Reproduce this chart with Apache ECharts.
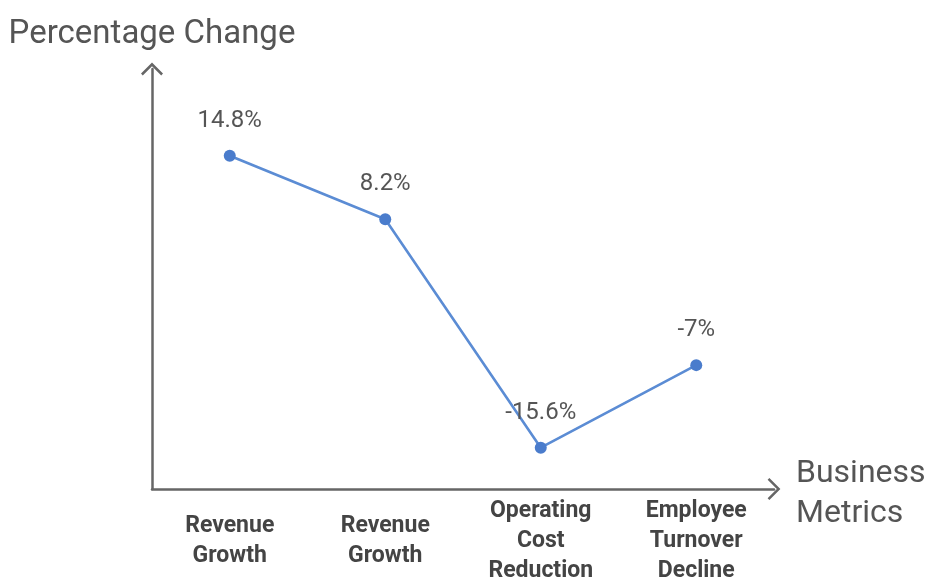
<!DOCTYPE html>
<html>
<head>
<meta charset="utf-8">
<script src="https://cdn.jsdelivr.net/npm/echarts@6/dist/echarts.min.js"></script>
<style>
html, body { margin: 0; padding: 0; background: #fff; }
#main { width: 929px; height: 582px; }
</style>
</head>
<body>
<div id="main"></div>
<script>
// data
var metrics = ['Revenue\nGrowth', 'Revenue\nGrowth', 'Operating\nCost\nReduction', 'Employee\nTurnover\nDecline'];
var changes = [14.8, 8.2, -15.6, -7];

var chevron = 'path://M0,10 L10,0 L20,10 L18.4,11.6 L10,3.2 L1.6,11.6 Z';

var myChart = echarts.init(document.getElementById('main'));
var option = {
    backgroundColor: '#fff',
    animation: false,
    grid: {
        left: 152,
        right: 155,
        top: 69,
        bottom: 93,
        outerBoundsMode: 'none',
        containLabel: false
    },
    xAxis: {
        type: 'category',
        data: metrics,
        // small spacer line on top pushes the two words down a bit
        name: '{s| }\n{a|Business}\n{a|Metrics}',
        nameLocation: 'end',
        nameGap: 22,
        nameTextStyle: {
            fontFamily: 'Roboto',
            fontSize: 32,
            color: '#555',
            align: 'left',
            verticalAlign: 'middle',
            rich: {
                s: { fontSize: 6, lineHeight: 9 },
                a: { fontFamily: 'Roboto', fontSize: 32, lineHeight: 40, color: '#555' }
            }
        },
        axisLine: {
            onZero: false,
            symbol: ['none', chevron],
            symbolSize: [22, 13],
            lineStyle: { color: '#666', width: 2.5 }
        },
        axisTick: { show: false },
        axisLabel: {
            fontFamily: 'Roboto',
            fontWeight: 'bold',
            fontSize: 23,
            lineHeight: 30,
            color: '#444',
            margin: 52,
            verticalAlign: 'middle'
        },
        splitLine: { show: false }
    },
    yAxis: {
        type: 'value',
        min: -19.9,
        max: 23.84,
        name: 'Percentage Change',
        nameLocation: 'end',
        nameGap: 34,
        nameTextStyle: {
            fontFamily: 'Roboto',
            fontSize: 33,
            color: '#555',
            verticalAlign: 'middle'
        },
        axisLine: {
            show: true,
            symbol: ['none', chevron],
            symbolSize: [22, 13],
            lineStyle: { color: '#666', width: 2.5 }
        },
        axisTick: { show: false },
        axisLabel: { show: false },
        splitLine: { show: false }
    },
    series: [{
        type: 'line',
        data: changes,
        symbol: 'circle',
        symbolSize: 12,
        itemStyle: { color: '#4a7ccc' },
        lineStyle: { color: '#5b8cd4', width: 2.6 },
        label: {
            show: true,
            position: 'top',
            distance: 17,
            fontFamily: 'Roboto',
            fontSize: 24,
            color: '#555',
            formatter: function (p) { return p.value + '%'; }
        }
    }]
};
myChart.setOption(option);
</script>
</body>
</html>
